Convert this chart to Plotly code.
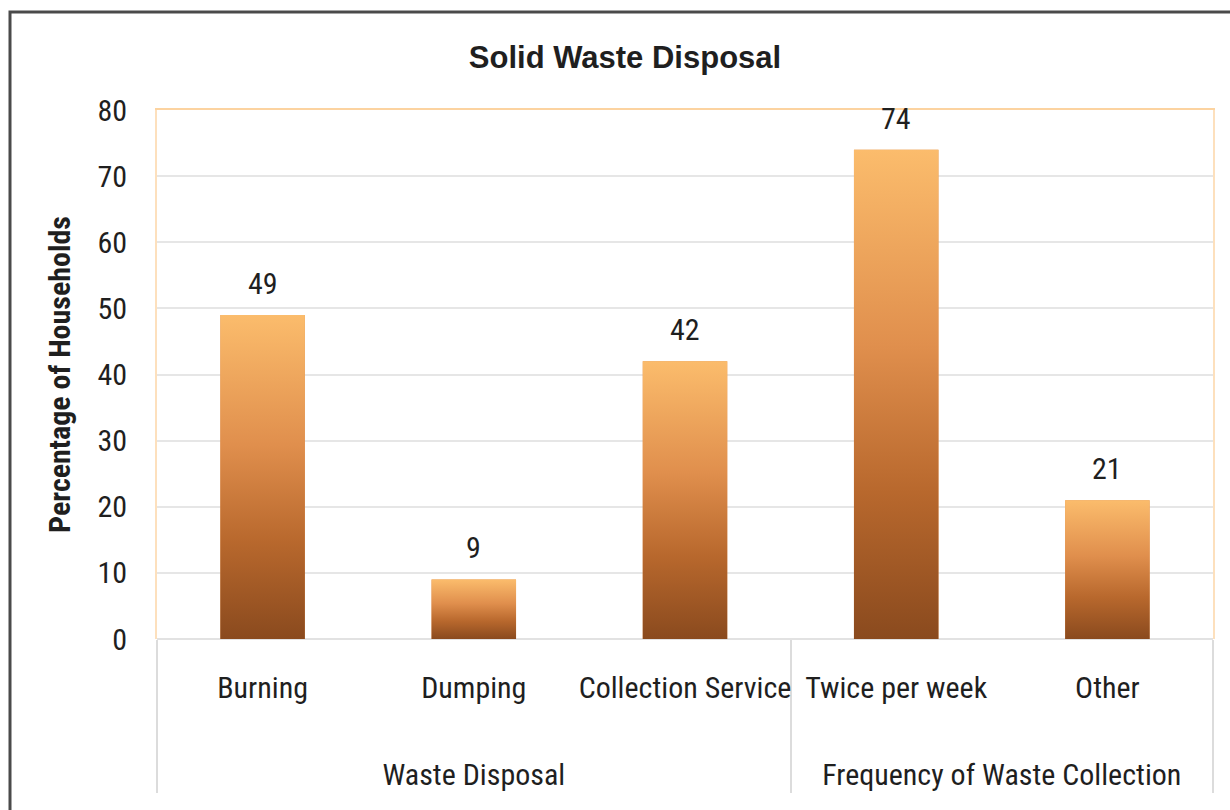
import plotly.graph_objects as go

# Survey results: share of households (%) by disposal method / collection frequency
groups = ["Waste Disposal", "Waste Disposal", "Waste Disposal",
          "Frequency of Waste Collection", "Frequency of Waste Collection"]
categories = ["Burning", "Dumping", "Collection Service", "Twice per week", "Other"]
percentages = [49, 9, 42, 74, 21]
y_tick_values = [0, 10, 20, 30, 40, 50, 60, 70, 80]

NARROW = "Liberation Sans Narrow, Arial Narrow, Roboto Condensed, sans-serif"
BOLD_WIDE = "Liberation Sans, Arial, sans-serif"
TEXT = "#1f1f1f"
BAR_WIDTH = 0.4

# copper gradient, dark at the base, light at the top
copper = [[0.0, "#8a4a1e"], [0.3, "#b8682d"], [0.6, "#e08f4d"], [1.0, "#fbbc6c"]]

# the outer level sits lower than the category level
group_labels = ["<br><br>" + g for g in groups]

fig = go.Figure()

fig.add_trace(go.Bar(
    x=[group_labels, categories],
    y=percentages,
    width=BAR_WIDTH,
    marker=dict(color="#e08f4d", line=dict(width=0)),
    showlegend=False,
    hoverinfo="skip",
))

# gradient overlay for each bar, on a numeric twin of the category axis
for i, v in enumerate(percentages):
    left, right = i - BAR_WIDTH / 2, i + BAR_WIDTH / 2
    fig.add_trace(go.Scatter(
        x=[left, right, right, left, left],
        y=[0, 0, v, v, 0],
        xaxis="x2",
        mode="lines",
        line=dict(width=0),
        fill="toself",
        fillgradient=dict(type="vertical", colorscale=copper),
        showlegend=False,
        hovertemplate=f"{categories[i]}: %{{customdata}}%<extra></extra>",
        customdata=[v] * 5,
    ))

# value labels above the bars
value_labels = [
    dict(x=i, y=v, xref="x2", yref="y", text=str(v), showarrow=False,
         yanchor="bottom", yshift=12,
         font=dict(family=NARROW, size=30, color=TEXT))
    for i, v in enumerate(percentages)
]

fig.update_layout(
    width=1230,
    height=810,
    margin=dict(l=157, r=17, t=110, b=171),
    paper_bgcolor="white",
    plot_bgcolor="white",
    title=dict(
        text="<b>Solid Waste Disposal</b>",
        font=dict(family=BOLD_WIDE, size=31, color=TEXT),
        x=625 / 1230, xref="container", xanchor="center",
        y=1 - 57 / 810, yref="container", yanchor="middle",
    ),
    xaxis=dict(
        type="multicategory",
        automargin=False,
        tickangle=0,
        ticklabelstandoff=28,
        showgrid=False,
        ticks="",
        showdividers=True,
        dividercolor="#dcdcdc",
        dividerwidth=2,
        tickfont=dict(family=NARROW, size=30, color=TEXT),
        showline=False,
        zeroline=False,
    ),
    xaxis2=dict(
        overlaying="x",
        side="top",
        range=[-0.5, 4.5],
        automargin=False,
        showline=True,
        linecolor="#fcd3a0",
        linewidth=2,
        showticklabels=False,
        showgrid=False,
        zeroline=False,
        ticks="",
    ),
    yaxis=dict(
        range=[0, 80],
        automargin=False,
        tickvals=y_tick_values,
        tickfont=dict(family=NARROW, size=30, color=TEXT),
        ticklabelstandoff=22,
        showgrid=True,
        gridcolor="#e6e6e6",
        gridwidth=1.5,
        showline=True,
        mirror=True,
        linecolor="#fde0bd",
        linewidth=2,
        zeroline=True,
        zerolinecolor="#e2e2e2",
        zerolinewidth=2,
        title=dict(
            text="<b>Percentage of Households</b>",
            font=dict(family=NARROW, size=30, color=TEXT),
            standoff=18,
        ),
    ),
    annotations=value_labels,
    shapes=[
        # outer frame of the chart
        dict(
            type="rect", xref="paper", yref="paper", layer="below",
            x0=(10 - 157) / 1056, x1=1 + 40 / 1056,
            y0=-(171 + 20) / 529, y1=1 + (110 - 12) / 529,
            line=dict(color="#4a4a4a", width=3),
            fillcolor="rgba(0,0,0,0)",
        ),
    ],
)

fig.write_html("out.html")
